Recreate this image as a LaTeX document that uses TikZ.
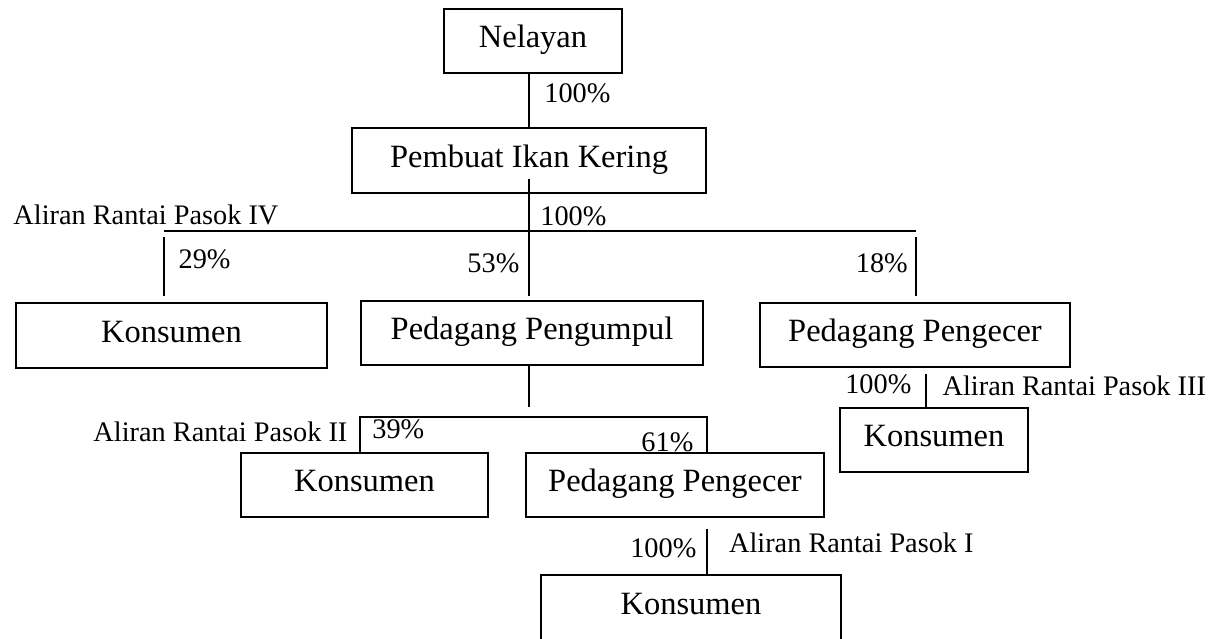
\documentclass[tikz,border=0pt]{standalone}
\usepackage{fontspec}
\setmainfont{Liberation Serif}
\usepackage{tikz}
\usetikzlibrary{calc}

\begin{document}
\begin{tikzpicture}[x=1pt,y=-1pt,line width=1.3pt,
   box/.style={draw,rectangle,inner sep=0pt,minimum height=64pt,
     text height=21pt,text depth=7.4pt,
     font=\fontsize{32.5}{38}\selectfont},
   lbl/.style={inner sep=0pt,font=\fontsize{28.3}{33}\selectfont}]
\useasboundingbox (0,0) rectangle (1221,638);

% boxes
\node[box,minimum width=178pt] (nel) at (533,41) {Nelayan};
\node[box,minimum width=354pt,minimum height=65pt] (pik) at (529,160.5) {Pembuat Ikan Kering};
\node[box,minimum width=311pt,minimum height=65pt] (k4) at (171.5,335.5) {Konsumen};
\node[box,minimum width=342pt] (pgp) at (532,333) {Pedagang Pengumpul};
\node[box,minimum width=310pt] (pe1) at (915,335) {Pedagang Pengecer};
\node[box,minimum width=188pt] (k3) at (934,440) {Konsumen};
\node[box,minimum width=247pt] (k2) at (364.5,485) {Konsumen};
\node[box,minimum width=298pt] (pe2) at (675,485) {Pedagang Pengecer};
\node[box,minimum width=300pt,minimum height=66pt] (k1) at (691,608) {Konsumen};

\coordinate (b1l) at (164,231);
\coordinate (b1r) at (916,231);
\coordinate (b2l) at (360,417);
\coordinate (b2r) at (707,417);

% connectors
\draw (pik.north) -- (pik.north |- nel.south);
\draw ([yshift=15pt]pik.south) -- ([yshift=4pt]pik.south |- pgp.north);
\draw[line width=1.8pt] (b1l) -- (b1r);
\draw ([yshift=-6pt]b1l) -- ([yshift=6pt]b1l |- k4.north);
\draw ([yshift=-6pt]b1r) -- ([yshift=6pt]b1r |- pe1.north);
\draw (pgp.south -| pik.south) -- ++(0,41);
\draw (k2.north -| b2l) -- (b2l) -- (b2r) -- (b2r |- pe2.north);
\draw ([yshift=-11pt]pe2.south -| b2r) -- (k1.north -| b2r);
\draw ([xshift=11pt,yshift=-6pt]pe1.south) -- ([xshift=11pt]pe1.south |- k3.north);

% labels
\node[lbl,anchor=west] (p1) at (543.7,93) {100\%};
\node[lbl,anchor=west] (p2) at (539.7,216) {100\%};
\node[lbl,anchor=east] (a4) at (279,215) {Aliran Rantai Pasok IV};
\node[lbl,anchor=west] (p29) at (178,259) {29\%};
\node[lbl,anchor=east] (p53) at (520,263) {53\%};
\node[lbl,anchor=east] (p18) at (908.4,263) {18\%};
\node[lbl,anchor=east] (a2) at (348,432) {Aliran Rantai Pasok II};
\node[lbl,anchor=west] (p39) at (371.7,429) {39\%};
\node[lbl,anchor=east] (p61) at (694,442) {61\%};
\node[lbl,anchor=east] (p3) at (912,384) {100\%};
\node[lbl,anchor=west] (a3) at (942,386) {Aliran Rantai Pasok III};
\node[lbl,anchor=east] (p4) at (697,548) {100\%};
\node[lbl,anchor=west] (a1) at (728.5,543) {Aliran Rantai Pasok I};
\end{tikzpicture}
\end{document}
